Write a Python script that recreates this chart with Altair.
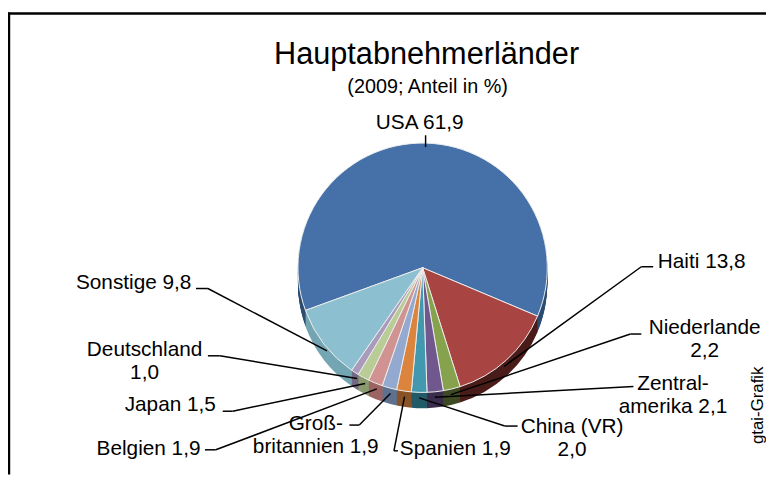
import math
import altair as alt
import pandas as pd

# ---------------- data ----------------
countries = ["USA", "Haiti", "Niederlande", "Zentralamerika", "China (VR)", "Spanien",
             "Großbritannien", "Belgien", "Japan", "Deutschland", "Sonstige"]
shares = [61.9, 13.8, 2.2, 2.1, 2.0, 1.9, 1.9, 1.9, 1.5, 1.0, 9.8]
label_texts = ["USA 61,9", "Haiti 13,8", "Niederlande\n2,2", "Zentral-\namerika 2,1",
               "China (VR)\n2,0", "Spanien 1,9", "Groß-\nbritannien 1,9", "Belgien 1,9",
               "Japan 1,5", "Deutschland\n1,0", "Sonstige 9,8"]
title_text = "Hauptabnehmerländer"
subtitle_text = "(2009; Anteil in %)"
source_text = "gtai-Grafik"

# ---------------- styles ----------------
top_colors = ["#4571A8", "#A84543", "#87A24D", "#70588F", "#4298AF", "#DA843D",
              "#93A9D0", "#D09391", "#B9CC95", "#A89BBC", "#8CC0D1"]
side_colors = ["#2E4D73", "#4A1D1B", "#3F4B24", "#3B2D4C", "#235B68", "#8A5327",
               "#5F7190", "#9D6463", "#8A9B6E", "#746985", "#74A5B3"]
FONT = "Liberation Sans, Arial, sans-serif"

# ---------------- layout (page px; chart origin is page (8,8)) ----------------
OFF = 8
W, H = 766, 469
CX, CY, R, DEPTH = 427 - OFF, 268 - OFF, 126, 16
R_END = R - 4
START = math.radians(250)

label_x = [424, 709, 712, 680, 578, 460, 319, 150, 172, 146, 135]
label_y = [128, 268, 335, 392, 435, 457, 432, 457, 413, 357, 289]
elbow_x = [430, 648, 637, 640, 510, 398, 363, 218, 235, 222, 210]
elbow_y = [134, 267, 335, 388, 428, 453, 427, 452, 413, 357, 289]
stub_x = [430, 660, 648, 640, 523, 402, 353, 207, 225, 210, 198]

df = pd.DataFrame({
    "country": countries,
    "share": shares,
    "idx": list(range(len(countries))),
    "label": label_texts,
    "lx": [v - OFF for v in label_x],
    "ly": [v - OFF for v in label_y],
    "ex": [v - OFF for v in elbow_x],
    "ey": [v - OFF for v in elbow_y],
    "sx": [v - OFF for v in stub_x],
})

theta_scale = alt.Scale(range=[START, START + 2 * math.pi])


def pie_layer(colors, yoff, top):
    props = dict(radius=R)
    if top:
        props.update(stroke="#EDEDED", strokeWidth=1)
    return alt.Chart(df).mark_arc(**props).encode(
        theta=alt.Theta("share:Q", stack=True, scale=theta_scale),
        color=alt.Color("country:N", scale=alt.Scale(domain=countries, range=colors), legend=None),
        order=alt.Order("idx:Q"),
        x=alt.value(CX),
        y=alt.value(CY + yoff),
    )


side_layers = [pie_layer(side_colors, k, False) for k in range(DEPTH, 0, -1)]
top_layer = pie_layer(top_colors, 0, True)

base = alt.Chart(df).transform_joinaggregate(
    total="sum(share)"
).transform_window(
    cum="sum(share)", sort=[alt.SortField("idx")], frame=[None, 0]
).transform_calculate(
    mid=f"{START} + 2*PI*(datum.cum - datum.share/2)/datum.total"
).transform_calculate(
    px=f"{CX} + {R_END}*sin(datum.mid)",
    py=f"{CY} - {R_END}*cos(datum.mid) + (cos(datum.mid) < 0 ? {DEPTH * 0.6} : 0)",
)

leaders = base.mark_rule(color="black", strokeWidth=1.5).encode(
    x=alt.X("ex:Q", scale=None), y=alt.Y("ey:Q", scale=None),
    x2=alt.X2("px:Q"), y2=alt.Y2("py:Q"),
)
stubs = alt.Chart(df).mark_rule(color="black", strokeWidth=1.5).encode(
    x=alt.X("sx:Q", scale=None), x2=alt.X2("ex:Q"), y=alt.Y("ey:Q", scale=None),
)
labels = alt.Chart(df).mark_text(
    font=FONT, fontSize=21, align="center", baseline="alphabetic",
    lineBreak="\n", lineHeight=23, color="black",
).encode(
    x=alt.X("lx:Q", scale=None), y=alt.Y("ly:Q", scale=None), text="label:N",
)

one = pd.DataFrame({"title": [title_text], "subtitle": [subtitle_text], "source": [source_text]})
title = alt.Chart(one).mark_text(font=FONT, fontSize=31, align="center", baseline="alphabetic",
                                 color="black").encode(
    x=alt.value(431 - OFF), y=alt.value(62 - OFF), text="title:N")
subtitle = alt.Chart(one).mark_text(font=FONT, fontSize=20, align="center", baseline="alphabetic",
                                    color="black").encode(
    x=alt.value(432 - OFF), y=alt.value(91 - OFF), text="subtitle:N")
source = alt.Chart(one).mark_text(font=FONT, fontSize=17, align="center", baseline="middle",
                                  angle=270, color="black").encode(
    x=alt.value(766 - OFF), y=alt.value(407 - OFF), text="source:N")

frame_top = alt.Chart(one).mark_rule(color="black", strokeWidth=2.5).encode(
    x=alt.value(0), x2=alt.value(W), y=alt.value(3))
frame_left = alt.Chart(one).mark_rule(color="black", strokeWidth=2.5).encode(
    x=alt.value(1), y=alt.value(2), y2=alt.value(H))

chart = alt.layer(
    *side_layers, top_layer, leaders, stubs, labels, title, subtitle, source, frame_top, frame_left
).resolve_scale(color="independent").properties(
    width=W, height=H, padding=0, autosize=alt.AutoSizeParams(type="none"), background="white"
).configure_view(stroke=None)

chart.save("out.html", embed_options={"renderer": "svg", "actions": False})
